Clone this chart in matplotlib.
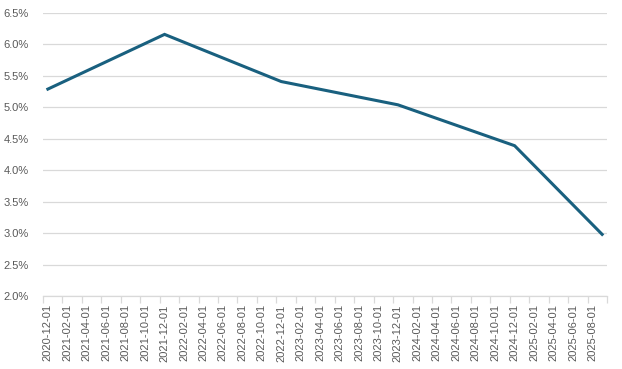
import pandas as pd
import matplotlib.pyplot as plt
from matplotlib.ticker import FixedLocator, FuncFormatter

# dados
datas = ["2020-12-01", "2021-12-01", "2022-12-01", "2023-12-01", "2024-12-01", "2025-09-01"]
valores = [5.29, 6.16, 5.41, 5.04, 4.39, 2.98]

inicio = pd.Timestamp("2020-12-01")
fim = pd.Timestamp("2025-09-01")
meses = pd.date_range(inicio, fim, freq="MS")  # eixo mensal
rotulos = [m.strftime("%Y-%m-%d") for m in meses[::2]]

x = [(pd.Timestamp(d).year - inicio.year) * 12 + pd.Timestamp(d).month - inicio.month for d in datas]

fig = plt.figure(figsize=(6.22, 3.69), dpi=100)
ax = fig.add_axes([43 / 622, 73 / 369, 564 / 622, 283 / 369])
ax.plot(x, valores, color="#19607F", linewidth=2.2, solid_joinstyle="miter", zorder=3)

ax.set_xlim(-0.5, len(meses) - 0.5)
ax.set_ylim(2.0, 6.5)
ax.set_yticks([2.0 + 0.5 * i for i in range(10)])
ax.yaxis.set_major_formatter(FuncFormatter(lambda v, p: f"{v:.1f}%"))
ax.grid(axis="y", color="#D9D9D9", linewidth=0.9)
ax.set_axisbelow(True)

ax.set_xticks(range(0, len(meses), 2))
ax.set_xticklabels(rotulos, rotation=90)
ax.xaxis.set_minor_locator(FixedLocator([i - 0.5 for i in range(0, len(meses) + 1, 2)]))
ax.tick_params(axis="x", which="major", length=0, pad=6, labelsize=8, labelcolor="#595959")
ax.tick_params(axis="x", which="minor", length=5, color="#D9D9D9", width=0.9)
ax.tick_params(axis="y", length=0, pad=10, labelsize=8, labelcolor="#595959")

for s in ["top", "right", "left"]:
    ax.spines[s].set_visible(False)
ax.spines["bottom"].set_color("#D9D9D9")
ax.spines["bottom"].set_linewidth(0.9)

for t in ax.get_xticklabels() + ax.get_yticklabels():
    t.set_fontfamily("Liberation Sans")

fig.savefig("out.png", dpi=100)
